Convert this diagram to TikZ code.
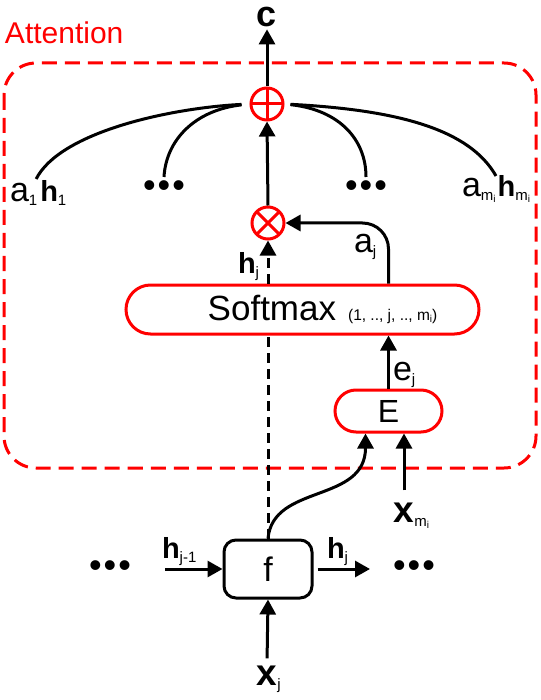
\documentclass[tikz,border=0pt]{standalone}
\usepackage{fontspec}
\setmainfont{Liberation Sans}
\usetikzlibrary{arrows.meta}
\usetikzlibrary{shapes.misc}

\begin{document}
\begin{tikzpicture}[x=1pt,y=-1pt,
    lbl/.style={inner sep=2pt, outer sep=0pt, font=\fontsize{34}{34}\selectfont},
    dotrow/.style={lbl, font=\fontsize{36}{36}\selectfont},
    opnode/.style={circle, draw=attred, line width=3pt, minimum size=32pt, inner sep=0pt},
    oplus/.style={opnode, path picture={\draw[attred, line width=3pt]
        (path picture bounding box.north) -- (path picture bounding box.south)
        (path picture bounding box.west) -- (path picture bounding box.east);}},
    otimes/.style={opnode, path picture={\draw[attred, line width=3pt]
        (path picture bounding box.north west) -- (path picture bounding box.south east)
        (path picture bounding box.south west) -- (path picture bounding box.north east);}},
    attbox/.style={rounded rectangle, draw=attred, line width=3pt, fill=white, inner sep=0pt},
    cellbox/.style={draw, line width=3pt, rounded corners=12pt, fill=white,
        minimum width=88pt, minimum height=58pt, font=\fontsize{34}{34}\selectfont},
    conn/.style={line width=3pt, -{Triangle[length=15pt,width=16pt]}},
    hconn/.style={conn, dash pattern=on 10pt off 6pt},
    attline/.style={attred, line width=3pt, dash pattern=on 15pt off 8pt, rounded corners=32pt}]
    \def\boldh{{\fontsize{29}{29}\selectfont\bfseries h}}
    \def\boldx{{\fontsize{37}{37}\selectfont\bfseries x}}
    \def\sub#1{\raisebox{-4pt}{\fontsize{15}{15}\selectfont\mdseries #1}}
    \def\subsub#1{\raisebox{-2pt}{\fontsize{10}{10}\selectfont #1}}
    \def\threedots{\textbullet\hspace{2pt}\textbullet\hspace{2pt}\textbullet}
    \definecolor{attred}{RGB}{255, 0, 0}
    \useasboundingbox (0,0) rectangle (540,700);
    % attention frame
    \draw [attline] (4,63) rectangle (536,468);
    \node[lbl, attred, font=\fontsize{30}{30}\selectfont, anchor=base west] (att) at (3,44) {Attention};
    % operators and boxes
    \node[oplus] (plus) at (267,104) {};
    \node[otimes] (times) at (268,223) {};
    \node[attbox, minimum width=353pt, minimum height=49pt] (soft) at (302.5,309.5)
        {\hspace*{40pt}{\fontsize{35}{35}\selectfont Softmax}\hspace{12pt}{\fontsize{15.5}{15.5}\selectfont (1, .., j, .., m\subsub{i})}};
    \node[attbox, minimum width=107pt, minimum height=42pt, font=\fontsize{32}{32}\selectfont] (E) at (388.5,411) {E};
    \node[cellbox] (f) at (268,569) {f};
    % labels
    \node[lbl, font=\fontsize{36}{36}\selectfont\bfseries, anchor=base] (c) at (267,27) {c};
    \node[lbl, anchor=base west] (a1) at (8,202) {a\sub{1}\hspace{3pt}\boldh\sub{1}};
    \node[dotrow] (ld1) at (164,189) {\threedots};
    \node[dotrow] (ld2) at (366,189) {\threedots};
    \node[lbl, anchor=base west] (am) at (460,197) {a\sub{m\subsub{i}}\hspace{2pt}\boldh\sub{m\subsub{i}}};
    \node[lbl, anchor=base west] (hjup) at (236,273) {\boldh\sub{j}};
    \node[lbl, anchor=base west] (aj) at (352,252) {a\sub{j}};
    \node[lbl, anchor=base west] (ej) at (391,380) {e\sub{j}};
    \node[lbl, anchor=base] (xm) at (404,522) {\boldx\rlap{\sub{m\subsub{i}}}};
    \node[lbl, anchor=base] (xj) at (267,685) {\boldx\rlap{\sub{j}}};
    \node[dotrow] (bd1) at (110,569) {\threedots};
    \node[dotrow] (bd2) at (414,569) {\threedots};
    \node[lbl, anchor=base west] (hprev) at (160,558) {\boldh\sub{j-1}};
    \node[lbl, anchor=base west] (hnext) at (325,558) {\boldh\sub{j}};
    \coordinate (hin) at (165,569);
    \coordinate (hout) at (370,569);
    % sum over the weighted states
    \draw [line width=3pt, shorten <=8pt] (plus.west) .. controls (170,108) and (60,132) .. ([xshift=-2pt]a1.north);
    \draw [line width=3pt, shorten <=8pt] (plus.west) .. controls (195,110) and (166,140) .. ([yshift=12pt]ld1.center);
    \draw [line width=3pt, shorten <=6pt] (plus.east) .. controls (340,110) and (366,140) .. ([yshift=12pt]ld2.center);
    \draw [line width=3pt, shorten <=6pt] (plus.east) .. controls (400,110) and (470,130) .. ([xshift=36pt,yshift=-2pt]am.north west);
    \draw [conn] (plus.north) -- (c.south);
    \draw [conn] (times.north) -- (plus.south);
    \draw [conn, rounded corners=26pt] (soft.north -| E.north) |- (times.east);
    \draw [conn] (E.north) -- (E.north |- soft.south);
    \draw [hconn, -] (f.north) -- (f.north |- soft.south);
    \draw [hconn] (f.north |- soft.north) -- (times.south);
    \draw [conn] (f.north) .. controls +(5,-55) and +(0,70) .. ([xshift=-23pt]E.south);
    \draw [conn, shorten <=10pt] (xm.north) -- (xm.north |- E.south);
    % recurrent cell
    \draw [conn] (hin) -- (f.west);
    \draw [conn, shorten <=4pt] (f.east) -- (hout);
    \draw [conn, shorten <=5pt] (xj.north) -- (f.south);
\end{tikzpicture}
\end{document}
